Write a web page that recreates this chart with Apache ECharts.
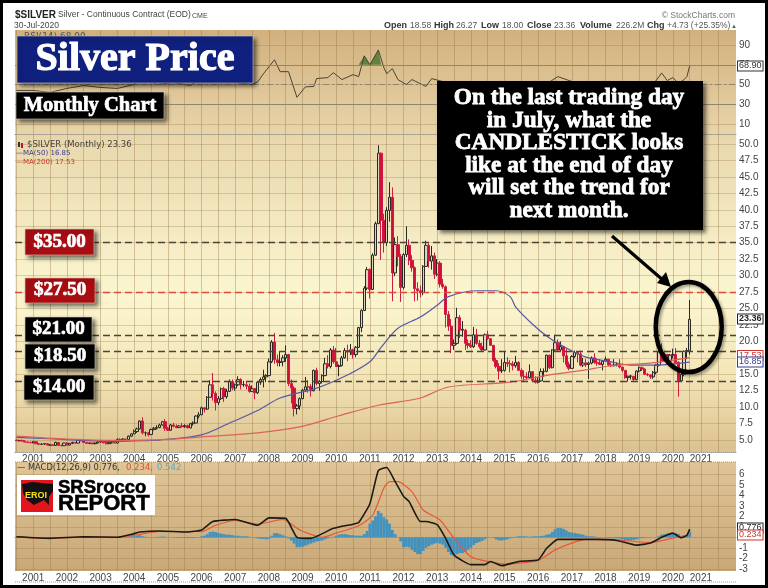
<!DOCTYPE html>
<html>
<head>
<meta charset="utf-8">
<title>Silver Price</title>
<script src="https://cdn.jsdelivr.net/npm/echarts@6/dist/echarts.min.js"></script>
<style>
html,body{margin:0;padding:0;background:#fff;}
#chart{width:768px;height:588px;}
#frame{position:absolute;left:0;top:0;width:768px;height:588px;box-sizing:border-box;border:3px solid #000;pointer-events:none;}
</style>
</head>
<body>
<div id="chart"></div>
<div id="frame"></div>
<script>
// monthly candles, each row: open, close, low, high
var silver2000 = [[5.0,4.9,4.85,5.1],[4.9,4.95,4.8,5.05],[4.95,4.85,4.8,5.05],[4.85,4.7,4.65,4.95],[4.7,4.65,4.55,4.8],[4.65,4.6,4.55,4.75]];
var silver2001 = [[4.6,4.75,4.5,4.85],[4.75,4.45,4.4,4.8],[4.45,4.35,4.3,4.55],[4.35,4.4,4.3,4.5],[4.4,4.45,4.3,4.55],[4.45,4.25,4.2,4.55],[4.25,4.25,4.15,4.35],[4.25,4.2,4.1,4.35],[4.2,4.65,4.1,4.75],[4.65,4.2,4.15,4.7],[4.2,4.15,4.05,4.3],[4.15,4.55,4.1,4.6]];
var silver2002 = [[4.55,4.25,4.2,4.65],[4.25,4.5,4.2,4.55],[4.5,4.65,4.4,4.75],[4.65,4.55,4.5,4.7],[4.55,4.95,4.5,5.05],[4.95,4.9,4.8,5.1],[4.9,4.65,4.6,5.0],[4.65,4.5,4.45,4.7],[4.5,4.55,4.4,4.65],[4.55,4.45,4.35,4.6],[4.45,4.55,4.35,4.6],[4.55,4.7,4.5,4.85]];
var silver2003 = [[4.7,4.8,4.6,5.0],[4.8,4.6,4.5,4.95],[4.6,4.45,4.35,4.7],[4.45,4.6,4.4,4.7],[4.6,4.6,4.5,4.85],[4.6,4.55,4.5,4.75],[4.55,5.1,4.5,5.25],[5.1,5.0,4.9,5.3],[5.0,5.15,4.95,5.3],[5.15,5.1,4.85,5.2],[5.1,5.6,5.0,5.7],[5.6,5.95,5.5,6.0]];
var silver2004 = [[5.95,6.3,5.9,6.6],[6.3,6.7,6.1,6.9],[6.7,7.9,6.6,8.0],[7.9,6.1,5.85,8.45],[6.1,6.1,5.6,6.3],[6.1,5.85,5.55,6.2],[5.85,6.6,5.75,6.75],[6.6,6.8,6.5,7.0],[6.8,6.9,6.6,7.25],[6.9,7.3,6.8,7.5],[7.3,7.8,7.2,7.9],[7.8,6.8,6.4,8.2]];
var silver2005 = [[6.8,6.5,6.4,7.0],[6.5,7.3,6.4,7.45],[7.3,7.1,6.95,7.6],[7.1,6.9,6.8,7.4],[6.9,7.15,6.85,7.3],[7.15,7.05,6.9,7.6],[7.05,7.2,6.85,7.4],[7.2,6.85,6.8,7.35],[6.85,7.5,6.8,7.6],[7.5,7.6,7.2,7.85],[7.6,8.65,7.55,8.75],[8.65,8.85,8.3,9.25]];
var silver2006 = [[8.85,9.9,8.8,10.1],[9.9,9.7,9.2,10.0],[9.7,11.5,9.6,11.7],[11.5,13.4,11.4,14.1],[13.4,12.1,11.0,15.2],[12.1,10.7,9.5,12.4],[10.7,11.3,10.3,11.7],[11.3,12.8,11.1,13.0],[12.8,11.6,10.8,13.1],[11.6,12.4,11.3,12.8],[12.4,13.9,12.3,14.2],[13.9,12.9,12.6,14.2]];
var silver2007 = [[12.9,13.4,12.5,13.6],[13.4,14.2,13.2,14.7],[14.2,13.4,12.7,14.4],[13.4,13.45,13.1,14.0],[13.4,13.2,12.7,13.9],[13.2,12.4,12.2,13.6],[12.4,12.8,12.3,13.3],[12.8,12.2,11.2,12.9],[12.2,13.8,12.0,13.9],[13.8,14.2,13.4,14.5],[14.2,14.6,13.0,15.7],[14.6,14.8,13.8,15.0]];
var silver2008 = [[14.8,16.9,14.7,17.4],[16.9,19.9,16.7,20.2],[19.9,17.2,16.6,21.3],[17.2,16.8,16.2,18.0],[16.8,16.9,16.2,18.4],[16.9,17.5,16.2,17.9],[17.5,18.0,16.9,19.4],[18.0,13.6,13.2,18.1],[13.6,12.9,10.6,14.2],[12.9,9.8,8.6,13.2],[9.8,10.2,8.9,10.5],[10.2,11.3,9.6,11.5]];
var silver2009 = [[11.3,12.6,11.2,12.8],[12.6,13.1,12.5,14.6],[13.1,13.05,12.2,14.1],[13.1,12.5,11.6,13.5],[12.5,15.6,12.4,15.7],[15.6,13.6,13.3,16.0],[13.6,13.9,12.5,14.1],[13.9,14.8,13.6,15.0],[14.8,16.6,14.7,17.5],[16.6,16.2,15.9,17.9],[16.2,18.7,15.9,19.0],[18.7,16.9,16.6,19.3]];
var silver2010 = [[16.9,16.2,16.1,19.0],[16.2,16.3,14.7,16.5],[16.3,17.5,16.2,17.8],[17.5,18.6,17.4,19.0],[18.6,18.4,17.0,19.5],[18.4,18.7,17.9,19.6],[18.7,18.0,17.4,18.9],[18.0,19.1,17.6,19.3],[19.1,22.1,19.0,22.2],[22.1,24.7,21.4,24.9],[24.7,28.1,24.6,28.4],[28.1,30.9,27.8,31.3]];
var silver2011 = [[30.9,27.9,26.5,31.1],[27.9,33.1,27.8,33.4],[33.1,37.9,33.0,38.2],[37.9,48.6,37.8,49.8],[48.6,38.4,32.4,48.7],[38.4,35.0,33.5,39.4],[35.0,39.9,34.5,40.4],[39.9,41.9,38.2,44.2],[41.9,30.4,26.1,43.4],[30.4,34.7,29.9,35.8],[34.7,32.9,31.4,36.0],[32.9,28.2,26.0,33.3]];
var silver2012 = [[28.2,33.2,27.9,33.4],[33.2,34.6,32.8,37.5],[34.6,32.3,31.6,35.5],[32.3,31.2,30.6,33.1],[31.2,28.0,26.1,31.4],[28.0,27.7,26.2,29.0],[27.7,27.4,26.7,28.5],[27.4,31.4,27.0,31.6],[31.4,34.6,31.3,35.3],[34.6,32.2,31.2,34.9],[32.2,33.0,30.9,34.5],[33.0,30.2,29.5,33.5]];
var silver2013 = [[30.2,31.9,29.9,32.5],[31.9,28.7,28.2,32.2],[28.7,28.3,28.0,29.5],[28.3,24.1,22.1,28.5],[24.1,22.3,21.6,24.6],[22.3,19.4,18.2,23.4],[19.4,19.7,18.7,20.3],[19.7,23.6,19.5,25.1],[23.6,21.7,20.5,24.0],[21.7,21.85,20.7,23.1],[21.7,19.7,18.7,21.9],[19.7,19.4,18.9,20.3]];
var silver2014 = [[19.4,19.2,19.0,20.2],[19.2,21.0,19.0,22.2],[21.0,19.7,19.5,21.9],[19.7,19.2,18.9,20.2],[19.2,18.7,18.5,19.8],[18.7,21.0,18.6,21.2],[21.0,20.4,20.2,21.6],[20.4,19.4,19.3,20.5],[19.4,17.1,16.9,19.4],[17.1,16.2,15.9,17.5],[16.2,15.5,14.2,16.7],[15.5,15.6,15.2,17.3]];
var silver2015 = [[15.6,16.8,15.4,18.5],[16.8,16.6,16.1,17.6],[16.6,16.55,15.3,17.2],[16.55,16.3,15.6,17.0],[16.3,16.8,16.0,17.8],[16.8,15.6,15.5,17.0],[15.6,14.7,14.3,15.9],[14.7,14.6,13.9,15.6],[14.6,14.5,14.1,15.3],[14.5,15.4,14.4,16.5],[15.4,14.1,13.9,15.5],[14.1,13.8,13.6,14.7]];
var silver2016 = [[13.8,14.0,13.6,14.6],[14.0,15.4,13.9,15.9],[15.4,15.45,14.6,15.9],[15.45,17.9,15.3,18.0],[17.9,16.0,15.8,18.0],[16.0,18.7,15.9,18.8],[18.7,19.8,18.6,21.0],[19.8,18.7,18.5,20.3],[18.7,19.2,18.4,20.0],[19.2,17.8,16.8,19.3],[17.8,16.5,16.1,18.9],[16.5,15.9,15.6,16.9]];
var silver2017 = [[15.9,17.7,15.9,17.9],[17.7,18.3,17.5,18.6],[18.3,18.1,16.8,18.4],[18.1,16.4,16.2,18.6],[16.4,16.7,16.1,17.5],[16.7,16.5,16.1,17.3],[16.5,16.7,14.3,16.9],[16.7,17.5,16.5,17.7],[17.5,16.8,16.6,18.2],[16.8,16.7,16.3,17.4],[16.7,16.5,16.4,17.3],[16.5,17.0,15.6,17.1]];
var silver2018 = [[17.0,17.3,17.0,17.7],[17.3,16.4,16.2,17.3],[16.4,16.3,16.1,16.8],[16.3,16.4,16.2,17.3],[16.4,16.45,16.2,16.8],[16.45,16.1,15.9,17.3],[16.1,15.6,15.3,16.1],[15.6,14.5,14.3,15.6],[14.5,14.7,13.9,14.8],[14.7,14.75,14.2,14.9],[14.7,14.2,14.0,14.7],[14.2,15.5,14.1,15.6]];
var silver2019 = [[15.5,16.0,15.3,16.2],[16.0,15.8,15.5,16.2],[15.8,15.0,14.9,15.9],[15.0,14.9,14.7,15.2],[14.9,14.6,14.3,15.0],[14.6,15.3,14.3,15.5],[15.3,16.4,15.0,16.6],[16.4,18.4,16.2,18.6],[18.4,17.0,16.8,19.7],[17.0,18.0,17.0,18.3],[18.0,17.0,16.8,18.1],[17.0,17.9,16.6,18.1]];
var silver2020 = [[17.9,18.0,17.4,18.9],[18.0,16.8,16.6,19.0],[16.8,14.0,11.6,17.0],[14.0,15.0,13.9,15.8],[15.0,18.5,14.7,18.6],[18.5,18.6,17.3,19.0],[18.58,23.36,18.0,26.27]];

var ma50Points = [['2000-07',5.4],['2001-07',5.2],['2002-07',4.95],['2003-07',4.8],['2004-07',4.95],['2004-10',5.0],['2006-01',5.8],['2006-11',7.6],['2007-09',9.5],['2008-05',11.4],['2009-06',12.9],['2010-05',14.9],['2011-01',16.9],['2011-05',19.1],['2011-11',22],['2012-07',23.7],['2013-01',25.5],['2013-05',26.8],['2014-03',27.7],['2014-10',27.7],['2015-03',26.8],['2015-05',25.2],['2015-11',22.6],['2016-05',20.5],['2016-11',19],['2017-06',17.6],['2018-03',16.9],['2018-10',16.4],['2019-07',16.4],['2020-07',16.85]];
var ma200Points = [['2000-07',5.6],['2002-01',5.15],['2003-07',4.95],['2005-01',5.1],['2006-01',5.5],['2007-09',6.1],['2008-12',7],['2010-02',8.7],['2011-04',10.3],['2012-07',11.4],['2013-05',13.07],['2015-03',13.8],['2016-05',14.9],['2017-05',15.6],['2018-03',16.3],['2019-05',16.7],['2020-07',17.53]];
var rsiPoints = [['2000-07',44],['2001-01',44],['2001-07',42],['2002-01',46],['2002-07',49],['2003-01',47],['2003-07',46],['2004-01',50],['2004-04',58],['2004-09',50],['2005-03',52],['2005-09',49],['2006-01',56],['2006-05',63],['2006-08',53],['2007-01',52],['2007-07',50],['2007-09',52.6],['2007-11',60.7],['2008-03',75],['2008-05',63],['2008-08',63],['2008-11',37],['2009-02',47.6],['2009-05',48],['2009-06',56],['2009-10',57],['2009-12',62],['2010-03',55],['2010-07',60],['2010-09',58],['2010-11',79],['2011-01',70],['2011-04',85],['2011-06',67],['2011-07',61],['2011-09',66],['2011-11',55],['2012-02',50],['2012-04',55],['2012-09',48],['2012-11',56],['2013-03',53],['2013-09',44],['2014-03',46],['2014-09',42],['2015-03',44],['2015-09',42],['2016-02',47],['2016-08',58],['2017-02',52],['2017-09',50],['2018-03',49],['2018-10',43],['2019-03',48],['2019-06',50],['2019-09',61.7],['2019-11',54],['2020-01',57],['2020-03',51],['2020-05',55],['2020-06',58],['2020-07',68.9]];
var rsiOverPoints = [['2010-09',70],['2010-11',79],['2011-01',70],['2011-04',85],['2011-05',70]];
var macdPoints = [['2000-07',0.05],['2001-07',-0.1],['2002-07',0.05],['2003-07',0],['2004-01',0.35],['2004-03',0.5],['2004-10',0.6],['2005-08',0.5],['2006-01',0.7],['2006-05',1.5],['2007-01',1.7],['2007-09',1.15],['2008-01',1.85],['2008-07',1.8],['2008-11',0],['2009-04',-0.1],['2009-12',0.85],['2010-07',1.25],['2010-09',1.4],['2011-01',3.2],['2011-04',6.35],['2011-07',6.65],['2011-10',5.3],['2012-01',3.9],['2012-03',3.4],['2012-07',1.5],['2012-09',1.5],['2013-01',1.2],['2013-04',-0.1],['2013-07',-1.7],['2014-01',-2.6],['2014-06',-2.6],['2014-08',-2.3],['2014-12',-2.7],['2015-06',-2.3],['2016-01',-2.15],['2016-04',-1.05],['2016-08',-0.2],['2017-01',-0.2],['2017-10',-0.2],['2018-05',-0.3],['2018-12',-0.75],['2019-05',-0.55],['2019-09',0],['2020-01',0.4],['2020-04',-0.05],['2020-06',0.2],['2020-07',0.776]];
var signalPoints = [['2000-07',0.02],['2001-07',-0.08],['2002-07',0.03],['2003-07',0],['2004-01',0.2],['2004-10',0.55],['2006-01',0.55],['2006-06',1.15],['2007-01',1.6],['2007-09',1.25],['2008-06',1.7],['2008-12',0.7],['2009-08',0],['2010-01',0.4],['2010-09',1.1],['2011-02',2.1],['2011-06',4.7],['2011-08',5.3],['2011-11',5.3],['2012-04',4.35],['2012-08',2.6],['2013-02',1.65],['2013-07',-0.1],['2014-01',-1.85],['2014-07',-2.3],['2015-01',-2.55],['2016-01',-2.2],['2016-07',-1.2],['2017-01',-0.55],['2017-06',-0.2],['2018-05',-0.25],['2019-05',-0.5],['2019-11',-0.2],['2020-04',0.1],['2020-07',0.234]];
// histogram per month, Jul 2000 .. Jul 2020
var hist2000 = [.02,.02,.02,.01,0,0];
var hist2001 = [-.02,-.05,-.08,-.08,-.08,-.1,-.1,-.1,-.05,-.05,-.05,-.03];
var hist2002 = [-.03,0,.03,.03,.05,.08,.06,.03,.02,0,0,.02];
var hist2003 = [.02,0,-.03,-.03,-.03,-.03,.02,.03,.03,.02,.06,.1];
var hist2004 = [.12,.15,.2,.1,.05,.02,.02,.02,.03,.05,.08,.05];
var hist2005 = [0,0,-.02,-.03,-.05,-.06,-.06,-.08,-.07,-.08,-.03,.02];
var hist2006 = [.1,.15,.3,.5,.55,.5,.4,.35,.3,.25,.25,.2];
var hist2007 = [.15,.15,.1,.1,.1,.05,0,-.05,-.1,-.15,-.15,-.2];
var hist2008 = [-.15,.15,.4,.4,.3,.2,.1,-.1,-.3,-.6,-.95,-.95];
var hist2009 = [-.9,-.8,-.7,-.6,-.5,-.4,-.35,-.3,-.2,-.1,-.02,.05];
var hist2010 = [.15,.25,.3,.3,.25,.2,.2,.15,.15,.15,.3,.6];
var hist2011 = [1.3,1.6,2.0,2.5,2.3,1.9,1.7,1.3,.7,.3,0,-.4];
var hist2012 = [-.95,-.9,-.95,-1.2,-1.4,-1.6,-1.6,-1.3,-1.0,-.85,-.7,-.6];
var hist2013 = [-.55,-.6,-.7,-1.0,-1.4,-1.7,-1.7,-1.6,-1.5,-1.5,-1.4,-1.2];
var hist2014 = [-1.0,-.75,-.55,-.45,-.35,-.2,-.05,0,-.05,-.2,-.3,-.3];
var hist2015 = [-.25,-.2,-.1,-.05,.05,.1,.1,.1,.08,.05,.08,.1];
var hist2016 = [.1,.12,.15,.25,.3,.5,.75,.9,.9,.8,.65,.5];
var hist2017 = [.45,.4,.35,.3,.25,.15,.1,.1,.08,.02,.03,0];
var hist2018 = [-.02,-.05,-.08,-.1,-.1,-.12,-.18,-.25,-.3,-.3,-.25,-.2];
var hist2019 = [-.12,-.08,-.05,-.02,-.02,0,.02,.1,.25,.3,.35,.35];
var hist2020 = [.4,.4,.3,.05,.1,.2,.54];

// axis ticks and the drawn support/resistance levels
var priceTicks = [5,7.5,10,12.5,15,17.5,20,22.5,25,27.5,30,32.5,35,37.5,40,42.5,45,47.5,50];
var rsiTicks = [10,30,50,70,90];
var macdTicks = [-3,-2,-1,0,1,2,3,4,5,6];
var darkLevels = [35,21,18.5,14];
var redLevels = [27.5];
var futureMonths = ['2020-08','2020-09','2020-10','2021-01','2021-02','2021-03','2021-04','2021-05','2021-06','2021-07','2021-08','2021-09','2021-10','2021-11','2021-12','2021-12b'];

var candles = [].concat(silver2000,silver2001,silver2002,silver2003,silver2004,silver2005,silver2006,silver2007,silver2008,silver2009,silver2010,silver2011,silver2012,silver2013,silver2014,silver2015,silver2016,silver2017,silver2018,silver2019,silver2020);
var macdHist = [].concat(hist2000,hist2001,hist2002,hist2003,hist2004,hist2005,hist2006,hist2007,hist2008,hist2009,hist2010,hist2011,hist2012,hist2013,hist2014,hist2015,hist2016,hist2017,hist2018,hist2019,hist2020);

var months = [];
for (var y = 2000; y <= 2020; y++) {
    for (var m = 1; m <= 12; m++) {
        if ((y === 2000 && m < 7) || (y === 2020 && m > 7)) continue;
        months.push(y + '-' + (m < 10 ? '0' + m : m));
    }
}
months = months.concat(futureMonths);

var chart = echarts.init(document.getElementById('chart'));

var GREY = '#444';
var SANS = 'Liberation Sans';
var SERIF = 'Liberation Serif';

function isHalfYear(i, v) {
    return v.slice(5) === '01' || v.slice(5) === '07';
}

function makeX(idx, showLabel) {
    return {
        type: 'category',
        gridIndex: idx,
        data: months,
        axisTick: {show: false},
        axisLine: {show: true, lineStyle: {color: '#999', type: 'dotted', width: 1}},
        axisLabel: {
            show: showLabel,
            interval: function (i, v) { return v.slice(5) === '01'; },
            formatter: function (v) { return v.slice(0, 4); },
            color: GREY, fontFamily: SANS, fontSize: 10, margin: 2
        },
        splitLine: {show: true, interval: isHalfYear, alignWithLabel: true, lineStyle: {color: 'rgba(150,115,70,0.38)', width: 1}}
    };
}

function makeY(idx, min, max, ticks, fmt) {
    return {
        type: 'value',
        gridIndex: idx,
        position: 'right',
        min: min,
        max: max,
        axisLine: {show: false},
        axisTick: {show: false, customValues: ticks},
        axisLabel: {customValues: ticks, formatter: fmt, color: GREY, fontFamily: SANS, fontSize: 10, margin: 3},
        splitLine: {show: true, lineStyle: {color: 'rgba(150,115,70,0.3)', width: 1}}
    };
}

function vGrad(stops) {
    return new echarts.graphic.LinearGradient(0, 0, 0, 1, stops);
}

function box(x, y, w, h, fill, label, fontSize, weight) {
    return [
        {type: 'rect', z: 100, shape: {x: x, y: y, width: w, height: h},
            style: {fill: fill, stroke: '#d8d0b8', lineWidth: 0.6, shadowColor: 'rgba(0,0,0,0.55)', shadowBlur: 4, shadowOffsetX: 3, shadowOffsetY: 3}},
        {type: 'text', z: 101, style: {text: label, x: x + w / 2, y: y + h / 2, textAlign: 'center', textVerticalAlign: 'middle',
            font: 'bold ' + fontSize + 'px "' + SERIF + '"', fill: '#fff', stroke: '#fff', lineWidth: weight || 0.7}}
    ];
}

function txt(text, x, y, font, fill, align) {
    return {type: 'text', z: 60, style: {text: text, x: x, y: y, font: font, fill: fill, textAlign: align || 'left', textVerticalAlign: 'middle'}};
}

function tag(text, y, color, bold) {
    return {type: 'text', z: 70, style: {text: text, x: 738, y: y, font: (bold ? 'bold ' : '') + '9px "' + SANS + '"', fill: color,
        backgroundColor: '#fff', borderColor: color, borderWidth: 1, padding: [0, 1], textVerticalAlign: 'middle'}};
}

var graphics = [];

// header rows
graphics.push(txt('$SILVER', 15, 15, 'bold 10px "' + SANS + '"', '#222'));
graphics.push(txt('Silver - Continuous Contract (EOD)', 58, 15, '8.5px "' + SANS + '"', '#444'));
graphics.push(txt('CME', 192, 16, '7px "' + SANS + '"', '#444'));
graphics.push(txt('30-Jul-2020', 14, 26, '8.5px "' + SANS + '"', '#444'));
graphics.push(txt('© StockCharts.com', 735, 16, '8.5px "' + SANS + '"', '#777', 'right'));
var headerLabels = [['Open',384],['High',434],['Low',481],['Close',527],['Volume',580],['Chg',647]];
var headerValues = [['18.58',410],['26.27',456],['18.00',502],['23.36',554],['226.2M',616],['+4.73 (+25.35%)',667]];
headerLabels.forEach(function (h) { graphics.push(txt(h[0], h[1], 26, 'bold 9px "' + SANS + '"', '#333')); });
headerValues.forEach(function (h) { graphics.push(txt(h[0], h[1], 26, '8.5px "' + SANS + '"', '#555')); });
graphics.push(txt('▲', 731, 26, '6px "' + SANS + '"', '#2a7a2a'));
graphics.push(txt('RSI(14) 68.90', 24, 37, '9px "DejaVu Sans"', '#555'));

// panel legends
graphics.push(txt('$SILVER (Monthly) 23.36', 27, 145, '8.5px "DejaVu Sans"', '#444'));
graphics.push({type: 'rect', z: 60, shape: {x: 18, y: 142, width: 2, height: 5}, style: {fill: '#333'}});
graphics.push({type: 'rect', z: 60, shape: {x: 21, y: 143, width: 2, height: 5}, style: {fill: '#c8102e'}});
graphics.push(txt('—MA(50) 16.85', 16, 153, '7px "DejaVu Sans"', '#3b3b8f'));
graphics.push(txt('—MA(200) 17.53', 16, 162, '7px "DejaVu Sans"', '#d0342c'));
graphics.push(txt('— MACD(12,26,9) 0.776,', 17, 468, '8.3px "DejaVu Sans"', '#333'));
graphics.push(txt('0.234,', 126, 468, '8.5px "DejaVu Sans"', '#e2502f'));
graphics.push(txt('0.542', 157, 468, '8.5px "DejaVu Sans"', '#5aa6c4'));

// value tags on the right edge
graphics.push(tag('68.90', 66, '#333'));
graphics.push(tag('23.36', 319, '#222', true));
graphics.push(tag('17.53', 355.5, '#d0342c'));
graphics.push(tag('16.85', 362, '#3b3b8f'));
graphics.push(tag('0.776', 528, '#222'));
graphics.push(tag('0.234', 535, '#d0342c'));

// dotted strip edges between the panels
[462, 582].forEach(function (yy) {
    graphics.push({type: 'line', z: 50, shape: {x1: 15, y1: yy, x2: 736, y2: yy}, style: {stroke: '#999', lineWidth: 1, lineDash: [1, 1]}});
});

// call-out boxes
graphics = graphics.concat(box(17, 36, 236, 47, '#10207e', 'Silver Price', 40, 1.2));
graphics = graphics.concat(box(16, 92, 148, 27, '#000', 'Monthly Chart', 20.5));
graphics = graphics.concat(box(25, 229, 69, 26, '#a80d12', '$35.00', 19));
graphics = graphics.concat(box(25, 278, 70, 25, '#a80d12', '$27.50', 19));
graphics = graphics.concat(box(25, 317, 67, 25, '#000', '$21.00', 19));
graphics = graphics.concat(box(25, 344, 70, 25, '#000', '$18.50', 19));
graphics = graphics.concat(box(24, 375, 70, 25, '#000', '$14.00', 19));
graphics.push({type: 'rect', z: 100, shape: {x: 437, y: 81, width: 266, height: 149},
    style: {fill: '#000', shadowColor: 'rgba(0,0,0,0.55)', shadowBlur: 4, shadowOffsetX: 3, shadowOffsetY: 3}});
var calloutLines = ['On the last trading day', 'in July, what the', 'CANDLESTICK looks', 'like at the end of day', 'will set the trend for', 'next month.'];
calloutLines.forEach(function (line, i) {
    graphics.push({type: 'text', z: 101, style: {text: line, x: 569, y: 98 + i * 22.6, textAlign: 'center', textVerticalAlign: 'middle',
        font: 'bold 23.3px "' + SERIF + '"', fill: '#fff', stroke: '#fff', lineWidth: 0.8}});
});

// arrow and ring around the last candle
graphics.push({type: 'line', z: 90, shape: {x1: 612, y1: 236, x2: 664, y2: 281}, style: {stroke: '#000', lineWidth: 3.2}});
graphics.push({type: 'polygon', z: 90, shape: {points: [[671, 287], [657, 283], [666, 272]]}, style: {fill: '#000'}});
graphics.push({type: 'ellipse', z: 90, shape: {cx: 688.7, cy: 327, rx: 33, ry: 45},
    style: {fill: 'transparent', stroke: '#000', lineWidth: 4.5, shadowColor: 'rgba(0,0,0,0.35)', shadowBlur: 3, shadowOffsetX: 2, shadowOffsetY: 2}});

// logo
graphics.push({type: 'rect', z: 80, shape: {x: 17, y: 475, width: 138, height: 40}, style: {fill: '#fff'}});
graphics.push({type: 'rect', z: 81, shape: {x: 21, y: 480, width: 32, height: 32}, style: {fill: '#e3141c'}});
graphics.push({type: 'polygon', z: 82, shape: {points: [[22,484],[32,482],[53,484],[53,491],[49,497],[49,505],[44,500],[34,505],[27,500],[23,493]]}, style: {fill: '#111'}});
graphics.push({type: 'text', z: 83, style: {text: 'EROI', x: 36, y: 496, textAlign: 'center', textVerticalAlign: 'middle', font: 'bold 9px "' + SANS + '"', fill: '#f5e416'}});
graphics.push({type: 'text', z: 83, style: {text: 'SRSrocco', x: 58, y: 488, textVerticalAlign: 'middle', font: 'bold 18.5px "' + SANS + '"', fill: '#000', stroke: '#000', lineWidth: 0.6}});
graphics.push({type: 'text', z: 83, style: {text: 'REPORT', x: 58, y: 504, textVerticalAlign: 'middle', font: 'bold 22px "' + SANS + '"', fill: '#000', stroke: '#000', lineWidth: 0.6}});

function levelLine(v, color) {
    return {yAxis: v, lineStyle: {color: color, type: [7, 4], width: 1.4}};
}

chart.setOption({
    animation: false,
    backgroundColor: '#fff',
    grid: [
        {left: 15, right: 32, top: 30, height: 109, show: true, borderWidth: 0,
            backgroundColor: vGrad([{offset: 0, color: '#d2b07e'}, {offset: 1, color: '#e9d7ab'}])},
        {left: 15, right: 32, top: 139, height: 313, show: true, borderWidth: 0,
            backgroundColor: vGrad([{offset: 0, color: '#e9d8ad'}, {offset: 0.5, color: '#fbf6d0'}, {offset: 0.75, color: '#f3e6b8'}, {offset: 1, color: '#dcc08e'}])},
        {left: 15, right: 32, top: 462, height: 109, show: true, borderWidth: 0,
            backgroundColor: vGrad([{offset: 0, color: '#dfc597'}, {offset: 1, color: '#c9a878'}])}
    ],
    xAxis: [makeX(0, false), makeX(1, true), makeX(2, true)],
    yAxis: [
        makeY(0, -5.2, 105.2, rsiTicks, function (v) { return v; }),
        makeY(1, 3.19, 50.76, priceTicks, function (v) { return v.toFixed(1); }),
        makeY(2, -3.21, 7.17, macdTicks, function (v) { return v; })
    ],
    series: [
        {type: 'line', name: 'RSI over 70', xAxisIndex: 0, yAxisIndex: 0, data: rsiOverPoints, showSymbol: false, silent: true,
            lineStyle: {width: 0}, areaStyle: {origin: 70, color: '#5f7d3c', opacity: 0.95}},
        {type: 'line', name: 'RSI', xAxisIndex: 0, yAxisIndex: 0, data: rsiPoints, showSymbol: false, silent: true,
            lineStyle: {color: '#4a4434', width: 1},
            markLine: {silent: true, symbol: 'none', label: {show: false}, data: [
                {yAxis: 70, lineStyle: {color: '#8f8672', type: 'solid', width: 1}},
                {yAxis: 30, lineStyle: {color: '#8f8672', type: 'solid', width: 1}},
                {yAxis: 50, lineStyle: {color: '#8f8672', type: [6, 3, 2, 3], width: 1}}
            ]}},
        {type: 'candlestick', name: 'Silver', xAxisIndex: 1, yAxisIndex: 1, data: candles, barWidth: 2.8, silent: true,
            itemStyle: {color: '#d9d3bd', color0: '#cf1038', borderColor: '#2a2a22', borderColor0: '#d01a40', borderWidth: 1},
            markLine: {silent: true, symbol: 'none', label: {show: false},
                data: darkLevels.map(function (v) { return levelLine(v, '#4c4334'); })
                    .concat(redLevels.map(function (v) { return levelLine(v, '#dd4a3c'); }))}},
        {type: 'line', name: 'MA(50)', xAxisIndex: 1, yAxisIndex: 1, data: ma50Points, showSymbol: false, silent: true, smooth: 0.3,
            lineStyle: {color: '#5658a8', width: 1.2}},
        {type: 'line', name: 'MA(200)', xAxisIndex: 1, yAxisIndex: 1, data: ma200Points, showSymbol: false, silent: true, smooth: 0.3,
            lineStyle: {color: '#dc6258', width: 1.2}},
        {type: 'bar', name: 'Histogram', xAxisIndex: 2, yAxisIndex: 2, data: macdHist, barWidth: '100%', silent: true,
            itemStyle: {color: '#4292bf'}},
        {type: 'line', name: 'Signal', xAxisIndex: 2, yAxisIndex: 2, data: signalPoints, showSymbol: false, silent: true, smooth: 0.2,
            lineStyle: {color: '#e8573a', width: 1.2}},
        {type: 'line', name: 'MACD', xAxisIndex: 2, yAxisIndex: 2, data: macdPoints, showSymbol: false, silent: true, smooth: 0.15,
            lineStyle: {color: '#1c1a14', width: 1.6}}
    ],
    graphic: {elements: graphics}
});
</script>
</body>
</html>
